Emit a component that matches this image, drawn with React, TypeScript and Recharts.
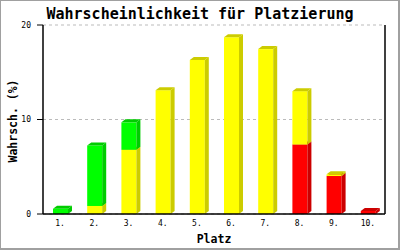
import { Bar, BarChart, CartesianGrid, XAxis, YAxis } from "recharts";

const places = ["1.", "2.", "3.", "4.", "5.", "6.", "7.", "8.", "9.", "10."];
const greenValues = [0.55, 6.4, 2.9, 0, 0, 0, 0, 0, 0, 0];
const yellowValues = [0, 0.85, 6.8, 13.1, 16.3, 18.7, 17.45, 5.65, 0.18, 0];
const redValues = [0, 0, 0, 0, 0, 0, 0, 7.35, 4.02, 0.32];
const yTicks = [0, 10, 20];

const data = places.map((platz, i) => ({
  platz,
  red: redValues[i],
  yellow: yellowValues[i],
  green: greenValues[i],
}));

const mono = "'DejaVu Sans Mono', monospace";

// front face + darker side and top, like a small 3D box
const box3d = (front: string, dark: string) => (props: any) => {
  const { x, y, width, height } = props;
  if (!height || height < 0.3) return <g />;
  const dx = 4;
  const dy = 3;
  return (
    <g>
      <rect x={x} y={y} width={width} height={height} fill={front} />
      <polygon
        points={`${x + width},${y} ${x + width + dx},${y - dy} ${x + width + dx},${y + height - dy} ${x + width},${y + height}`}
        fill={dark}
      />
      <polygon
        points={`${x},${y} ${x + dx},${y - dy} ${x + width + dx},${y - dy} ${x + width},${y}`}
        fill={dark}
      />
    </g>
  );
};

const App = () => {
  return (
    <div style={{ position: "fixed", left: 0, top: 0, width: 400, height: 250, background: "#fff" }}>
      <BarChart
        width={400}
        height={250}
        data={data}
        margin={{ top: 25, right: 0, bottom: 0, left: 0 }}
        barSize={15}
      >
        <CartesianGrid
          yAxisId="l"
          vertical={false}
          stroke="#bbbbbb"
          strokeDasharray="3 3"
        />
        <XAxis
          dataKey="platz"
          height={36}
          axisLine={{ stroke: "#000", strokeWidth: 1.5 }}
          tickLine={false}
          tickSize={0}
          tickMargin={6}
          interval={0}
          tick={{ fontSize: 8, fill: "#000", fontFamily: mono }}
        />
        <YAxis
          yAxisId="l"
          width={43}
          domain={[0, 20]}
          ticks={yTicks}
          axisLine={{ stroke: "#000", strokeWidth: 1.5 }}
          tickLine={{ stroke: "#000" }}
          tickSize={6}
          tickMargin={6}
          tick={{ fontSize: 8, fill: "#000", fontFamily: mono }}
        />
        <YAxis
          yAxisId="r"
          orientation="right"
          width={15}
          domain={[0, 20]}
          tick={false}
          tickLine={false}
          axisLine={{ stroke: "#000", strokeWidth: 1.5 }}
        />
        <Bar yAxisId="l" dataKey="red" stackId="p" shape={box3d("#ff0000", "#cc0000")} isAnimationActive={false} />
        <Bar yAxisId="l" dataKey="yellow" stackId="p" shape={box3d("#ffff00", "#cccc00")} isAnimationActive={false} />
        <Bar yAxisId="l" dataKey="green" stackId="p" shape={box3d("#00ff00", "#00cc00")} isAnimationActive={false} />
      </BarChart>
      <svg
        width={400}
        height={250}
        style={{ position: "absolute", left: 0, top: 0, pointerEvents: "none" }}
      >
        <text x={200} y={18.5} textAnchor="middle" fontFamily={mono} fontWeight="bold" fontSize={15} fill="#000">
          Wahrscheinlichkeit für Platzierung
        </text>
        <text
          x={0}
          y={0}
          transform="translate(16.5,121) rotate(-90)"
          textAnchor="middle"
          fontFamily={mono}
          fontWeight="bold"
          fontSize={11.5}
          fill="#000"
        >
          Wahrsch. (%)
        </text>
        <text x={214} y={243} textAnchor="middle" fontFamily={mono} fontWeight="bold" fontSize={11.5} fill="#000">
          Platz
        </text>
      </svg>
      <div
        style={{
          position: "absolute",
          left: 0,
          top: 0,
          width: 400,
          height: 250,
          boxSizing: "border-box",
          borderTop: "1px solid #a0a0a0",
          borderLeft: "1px solid #a0a0a0",
          borderRight: "2px solid #a0a0a0",
          borderBottom: "2px solid #a0a0a0",
          pointerEvents: "none",
        }}
      />
    </div>
  );
};

export default App;
